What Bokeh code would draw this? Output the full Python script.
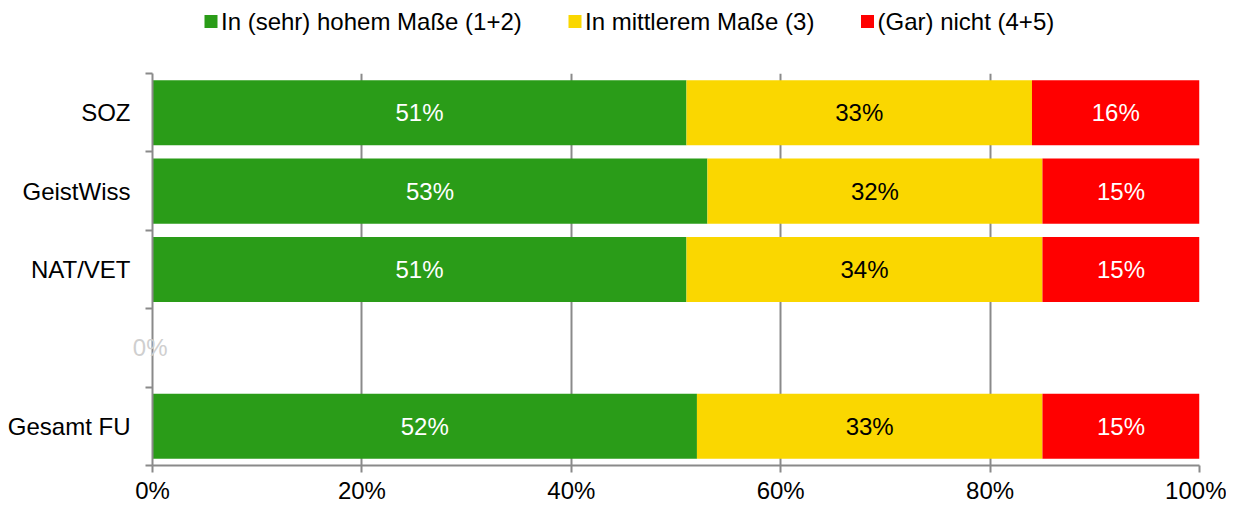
from bokeh.plotting import figure
from bokeh.layouts import column
from bokeh.models import (ColumnDataSource, FixedTicker, Label, LinearAxis, Range1d)
from bokeh.core.properties import value
from bokeh.embed import file_html
from bokeh.resources import INLINE

categories = ["SOZ", "GeistWiss", "NAT/VET", "", "Gesamt FU"]
high = [51, 53, 51, 0, 52]
mid = [33, 32, 34, 0, 33]
low = [16, 15, 15, 0, 15]
series_names = ["In (sehr) hohem Maße (1+2)", "In mittlerem Maße (3)", "(Gar) nicht (4+5)"]
colors = ["#2a9c18", "#fad700", "#ff0000"]
label_colors = ["white", "black", "white"]
x_ticks = [0, 20, 40, 60, 80, 100]

n = len(categories)
ypos = [n - i - 0.5 for i in range(n)]
empty_rows = [y for y, a, b, c in zip(ypos, high, mid, low) if a + b + c == 0]

FONT = "Liberation Sans"
FS = "24px"
GRAY = "#8a8a8a"
W = 1226
H = 506
FRAME_W = 1047   # frame spans 152..1199 px

# ---------- legend strip (frame aligned with the chart below) ----------
LH = 45
leg = figure(width=W, height=LH, output_backend="svg", toolbar_location=None,
             x_range=Range1d(0, FRAME_W), y_range=Range1d(0, LH),
             min_border=0, x_axis_type=None, y_axis_type=None)
leg.outline_line_color = None
leg.xgrid.grid_line_color = None
leg.ygrid.grid_line_color = None
leg_x = [58.5, 422.5, 715]        # layout positions of the legend entries (px from frame left)
leg_y = LH - 21
leg.scatter(x=leg_x, y=[leg_y] * 3, marker="square", size=13, color=colors, line_color=None)
leg.text(x=[x + 10 for x in leg_x], y=[leg_y] * 3, text=series_names,
         text_font=value(FONT), text_font_size=FS, text_baseline="middle",
         text_color="black")

# ---------- main chart ----------
p = figure(width=W, height=H - LH, output_backend="svg", toolbar_location=None,
           x_range=Range1d(0, 100), y_range=Range1d(0, n),
           min_border_left=152, min_border_right=W - 152 - FRAME_W, min_border_top=73 - LH,
           min_border_bottom=41)
p.outline_line_color = None
p.background_fill_color = "white"

src = ColumnDataSource(dict(y=ypos, high=high, mid=mid, low=low))
rs = p.hbar_stack(["high", "mid", "low"], y="y", height=0.83, color=colors, source=src,
                  line_color=None)

for i in range(n):
    left = 0
    for j, vals in enumerate([high, mid, low]):
        v = vals[i]
        if v > 0:
            p.add_layout(Label(x=left + v / 2, y=ypos[i], text=f"{v}%", text_align="center",
                               text_baseline="middle", text_color=label_colors[j],
                               text_font=FONT, text_font_size=FS))
        left += v

p.xaxis.ticker = FixedTicker(ticks=x_ticks)
p.xaxis.major_label_overrides = {t: f"{t}%" for t in x_ticks}
p.xaxis.axis_line_color = GRAY
p.xaxis.axis_line_width = 2
p.xaxis.major_tick_line_color = GRAY
p.xaxis.major_tick_line_width = 2
p.xaxis.major_tick_out = 7
p.xaxis.major_tick_in = 0
p.xaxis.minor_tick_line_color = None
p.xaxis.major_label_text_font = FONT
p.xaxis.major_label_text_font_size = FS
p.xaxis.major_label_text_color = "black"
p.xaxis.major_label_standoff = 4

# inner y axis: axis line, boundary ticks, faint "0%" of the empty row
ya = p.yaxis[0]
ya.ticker = FixedTicker(ticks=empty_rows, minor_ticks=list(range(n + 1)))
ya.major_label_overrides = {y: "0%" for y in empty_rows}
ya.axis_line_color = GRAY
ya.axis_line_width = 2
ya.major_tick_line_color = None
ya.major_tick_out = 0
ya.major_tick_in = 0
ya.minor_tick_line_color = GRAY
ya.minor_tick_line_width = 2
ya.minor_tick_out = 7
ya.minor_tick_in = 0
ya.major_label_text_font = FONT
ya.major_label_text_font_size = FS
ya.major_label_text_color = "#cfcfcf"
ya.major_label_standoff = -22

# outer y axis: category names
yb = LinearAxis(ticker=FixedTicker(ticks=ypos),
                major_label_overrides={y: c for y, c in zip(ypos, categories)})
yb.axis_line_color = None
yb.major_tick_line_color = None
yb.minor_tick_line_color = None
yb.major_tick_out = 0
yb.major_label_text_font = FONT
yb.major_label_text_font_size = FS
yb.major_label_text_color = "black"
yb.major_label_standoff = -1
p.add_layout(yb, "left")

p.xgrid.ticker = FixedTicker(ticks=x_ticks[1:])
p.xgrid.grid_line_color = GRAY
p.xgrid.grid_line_width = 2
p.ygrid.grid_line_color = None

layout = column(leg, p, spacing=0)
open("out.html", "w").write(file_html(layout, INLINE))
